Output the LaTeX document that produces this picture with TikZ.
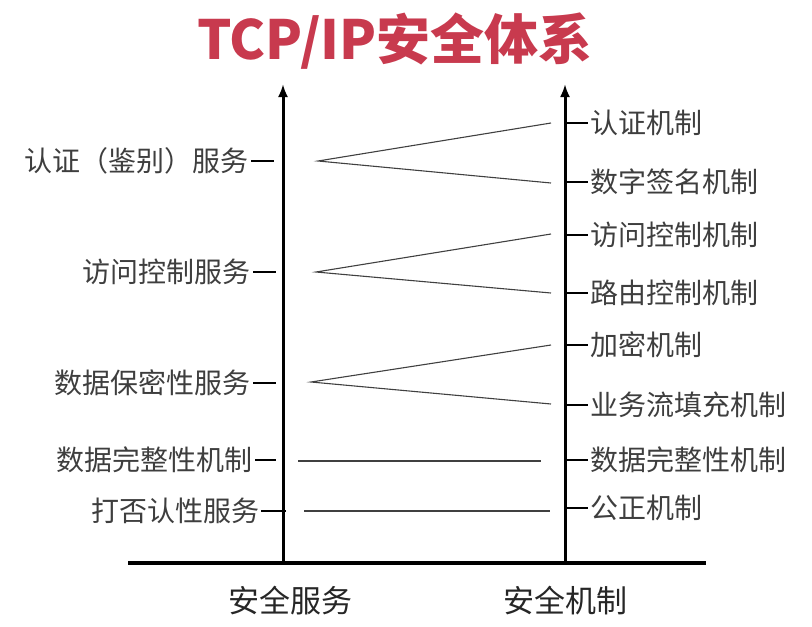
\documentclass[tikz,border=0pt]{standalone}
\usepackage{fontspec}
\newfontfamily\cjk{Noto Sans CJK SC}
\usetikzlibrary{arrows.meta}
\definecolor{titlered}{RGB}{200,58,78}
\definecolor{txtgray}{RGB}{62,62,62}
\begin{document}
\begin{tikzpicture}[x=1pt,y=-1pt,
  lab/.style={font=\cjk\fontsize{28}{28}\selectfont, text=txtgray, inner sep=0pt},
  foot/.style={font=\cjk\fontsize{31}{31}\selectfont, text=black!85, inner sep=0pt},
  axisline/.style={line width=3pt, -{Latex[length=13pt,width=10pt]}},
  baseline/.style={line width=3.5pt},
  fan/.style={line width=1.1pt, draw=black!75},
  tickline/.style={line width=2pt}]
\useasboundingbox (0,0) rectangle (812,627);

% title
\node[font=\cjk\bfseries\fontsize{54}{54}\selectfont, text=titlered, inner sep=0pt] (title) at (395,41) {TCP/IP安全体系};

% axes
\coordinate (Lb) at (283,563);
\coordinate (Lt) at (283,84);
\coordinate (Rb) at (565,563);
\coordinate (Rt) at (565,84);
\coordinate (B1) at (128,563);
\coordinate (B2) at (706,563);
\draw[baseline] (B1) -- (B2);
\draw[axisline] (Lb) -- (Lt);
\draw[axisline] (Rb) -- (Rt);

% bottom labels
\node[foot] (fs) at (290,601) {安全服务};
\node[foot] (fm) at (565,601) {安全机制};

% left labels
\node[lab, anchor=east] (l1) at (249,161) {认证（鉴别）服务};
\node[lab, anchor=east] (l2) at (251,272) {访问控制服务};
\node[lab, anchor=east] (l3) at (251,383) {数据保密性服务};
\node[lab, anchor=east] (l4) at (253,460) {数据完整性机制};
\node[lab, anchor=east] (l5) at (260,511) {打否认性服务};

\coordinate (t1) at (274,161);
\coordinate (t2) at (276,272);
\coordinate (t3) at (276,383);
\coordinate (t4) at (276,460);
\coordinate (t5) at (286,511);
\draw[tickline] (l1.east) ++(2,0) -- (t1);
\draw[tickline] (l2.east) ++(2,0) -- (t2);
\draw[tickline] (l3.east) ++(2,0) -- (t3);
\draw[tickline] (l4.east) ++(2,0) -- (t4);
\draw[tickline] (l5.east) ++(1,0) -- (t5);

% right labels
\node[lab, anchor=west] (r1) at (590,123) {认证机制};
\node[lab, anchor=west] (r2) at (590,182) {数字签名机制};
\node[lab, anchor=west] (r3) at (590,235) {访问控制机制};
\node[lab, anchor=west] (r4) at (590,293) {路由控制机制};
\node[lab, anchor=west] (r5) at (590,345) {加密机制};
\node[lab, anchor=west] (r6) at (590,405) {业务流填充机制};
\node[lab, anchor=west] (r7) at (590,460) {数据完整性机制};
\node[lab, anchor=west] (r8) at (590,508) {公正机制};

\foreach \i/\y in {1/123,2/182,3/235,4/293,5/345,6/405,7/460,8/508}{
  \coordinate (s\i) at (565,\y);
  \draw[tickline] (s\i) -- ([xshift=-2pt]r\i.west);
}

% fan connectors
\coordinate (p1) at (318,161);
\coordinate (p2) at (316,272);
\coordinate (p3) at (311,382);
\coordinate (e1) at (551,123);
\coordinate (e2) at (551,183);
\coordinate (e3) at (551,234);
\coordinate (e4) at (551,293);
\coordinate (e5) at (551,345);
\coordinate (e6) at (551,404);
\draw[fan] (e1) -- (p1) -- (e2);
\draw[fan] (e3) -- (p2) -- (e4);
\draw[fan] (e5) -- (p3) -- (e6);

% straight connectors
\coordinate (h1) at (298,461);
\coordinate (h2) at (541,461);
\coordinate (h3) at (304,511);
\coordinate (h4) at (550,511);
\draw[fan] (h1) -- (h2);
\draw[fan] (h3) -- (h4);
\end{tikzpicture}
\end{document}
